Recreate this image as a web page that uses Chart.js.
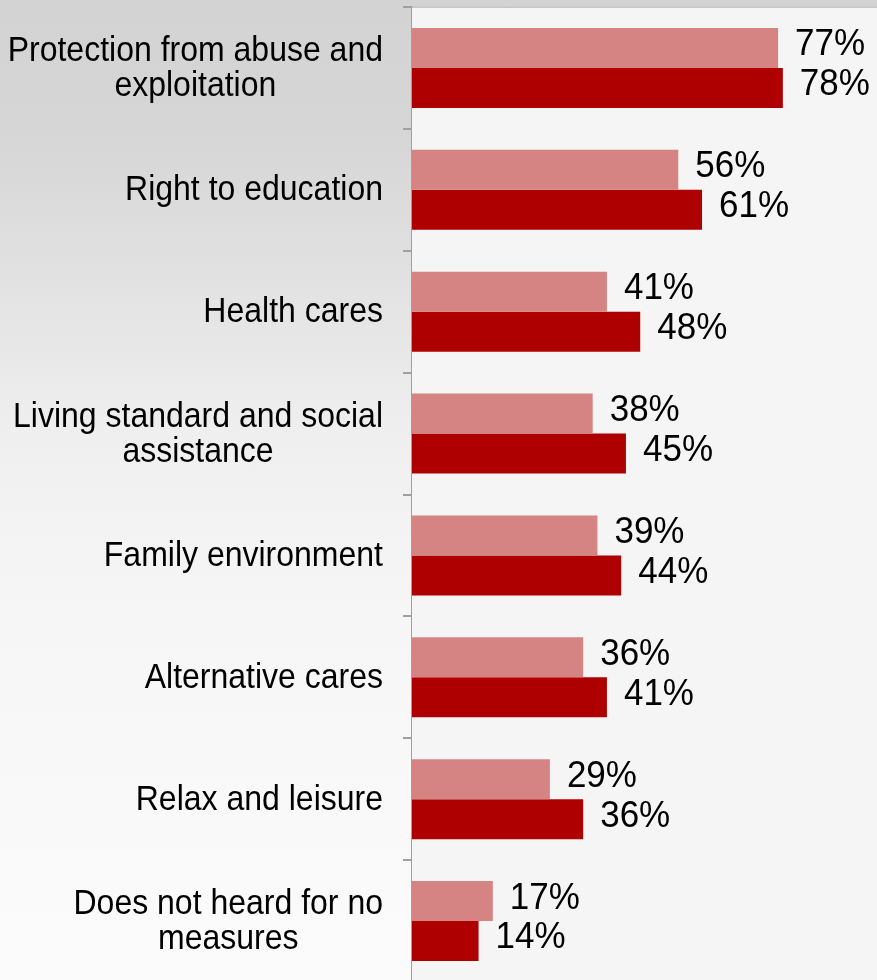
<!DOCTYPE html>
<html>
<head>
<meta charset="utf-8">
<script src="https://cdn.jsdelivr.net/npm/chart.js@4/dist/chart.umd.min.js"></script>
<style>
  html, body {
    margin: 0;
    padding: 0;
    width: 877px;
    height: 980px;
    overflow: hidden;
  }
  body {
    background: linear-gradient(to bottom, #d3d3d3 0%, #d6d6d6 14%, #e3e3e3 30%, #efefef 44%, #f7f6f7 62%, #fcfbfc 100%);
  }
  #wrap { width: 877px; height: 990px; }
</style>
</head>
<body>
<div id="wrap"><canvas id="chart" width="877" height="990"></canvas></div>
<script>
// Rights areas, one label block per category (lines of the label)
const categories = [
  ["Protection from abuse and", "exploitation"],
  ["Right to education"],
  ["Health cares"],
  ["Living standard and social", "assistance"],
  ["Family environment"],
  ["Alternative cares"],
  ["Relax and leisure"],
  ["Does not heard for no", "measures"]
];

// Share of respondents (%)
const seriesLight = [77, 56, 41, 38, 39, 36, 29, 17];
const seriesDark  = [78, 61, 48, 45, 44, 41, 36, 14];

const seriesNames = ["Series 1", "Series 2"];

const FONT = '"Liberation Sans", Arial, sans-serif';
const TEXT_STRETCH = 1.08; // slightly tall glyphs

// Draws text stretched vertically around its own centre line
function tallText(ctx, text, x, y) {
  ctx.save();
  ctx.translate(x, y);
  ctx.scale(1, TEXT_STRETCH);
  ctx.fillText(text, 0, 0);
  ctx.restore();
}

// Plot area fill and its top edge
const plotBackground = {
  id: 'plotBackground',
  beforeDatasetsDraw(chart) {
    const { ctx, chartArea } = chart;
    ctx.save();
    ctx.fillStyle = '#f5f5f5';
    ctx.fillRect(chartArea.left, chartArea.top, chartArea.right - chartArea.left, chartArea.bottom - chartArea.top);
    ctx.strokeStyle = '#c6c6c6';
    ctx.lineWidth = 1.5;
    ctx.beginPath();
    ctx.moveTo(chartArea.left, chartArea.top + 0.25);
    ctx.lineTo(chartArea.right, chartArea.top + 0.25);
    ctx.stroke();
    ctx.restore();
  }
};

// Category labels: block right-aligned against the axis, lines centred within the block
const categoryLabels = {
  id: 'categoryLabels',
  afterDraw(chart) {
    const { ctx } = chart;
    const yScale = chart.scales.y;
    const rightEdge = chart.chartArea.left - 9 - 20;
    const lineHeight = 35;
    ctx.save();
    ctx.font = '32px ' + FONT;
    ctx.fillStyle = '#000';
    ctx.textAlign = 'center';
    ctx.textBaseline = 'middle';
    categories.forEach((lines, i) => {
      const cy = yScale.getPixelForTick(i);
      const maxW = Math.max(...lines.map(l => ctx.measureText(l).width));
      const cx = rightEdge - maxW / 2;
      lines.forEach((line, j) => {
        tallText(ctx, line, cx, cy + (j - (lines.length - 1) / 2) * lineHeight + 1);
      });
    });
    ctx.restore();
  }
};

// Percentage labels at the end of each bar
const valueLabels = {
  id: 'valueLabels',
  afterDatasetsDraw(chart) {
    const { ctx } = chart;
    ctx.save();
    ctx.font = '35px ' + FONT;
    ctx.fillStyle = '#000';
    ctx.textAlign = 'left';
    ctx.textBaseline = 'middle';
    chart.data.datasets.forEach((ds, di) => {
      const meta = chart.getDatasetMeta(di);
      meta.data.forEach((bar, i) => {
        tallText(ctx, ds.data[i] + '%', bar.x + 17, bar.y - 3);
      });
    });
    ctx.restore();
  }
};

new Chart(document.getElementById('chart'), {
  type: 'bar',
  data: {
    labels: categories.map(l => l.join(' ')),
    datasets: [
      {
        label: seriesNames[0],
        data: seriesLight,
        backgroundColor: '#d58383',
        categoryPercentage: 0.656,
        barPercentage: 1.0
      },
      {
        label: seriesNames[1],
        data: seriesDark,
        backgroundColor: '#ae0000',
        categoryPercentage: 0.656,
        barPercentage: 1.0
      }
    ]
  },
  options: {
    indexAxis: 'y',
    responsive: false,
    maintainAspectRatio: false,
    devicePixelRatio: 1,
    animation: false,
    layout: { padding: { top: 7, bottom: 8, left: 0, right: 0 } },
    plugins: {
      legend: { display: false },
      tooltip: { enabled: false },
      title: { display: false }
    },
    scales: {
      x: {
        display: false,
        min: 0,
        max: 97.8,
        grid: { display: false }
      },
      y: {
        offset: true,
        ticks: { display: false },
        grid: {
          display: true,
          offset: true,
          drawOnChartArea: false,
          drawTicks: true,
          tickLength: 9,
          color: '#a0a0a0',
          lineWidth: 2
        },
        border: { display: true, color: '#a0a0a0', width: 2 },
        afterFit(scale) { scale.width = 412; }
      }
    }
  },
  plugins: [plotBackground, categoryLabels, valueLabels]
});
</script>
</body>
</html>
